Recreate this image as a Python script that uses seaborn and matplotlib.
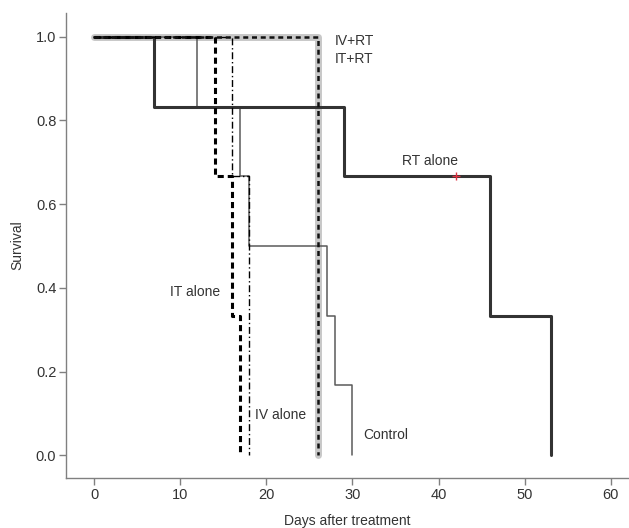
import matplotlib
matplotlib.use("Agg")
import matplotlib.pyplot as plt
import seaborn as sns
import pandas as pd

# survival curves (step functions)
control_days = [0, 12, 17, 18, 27, 28, 30]
control_surv = [1.0, 0.833, 0.667, 0.5, 0.333, 0.167, 0.0]

rt_days = [0, 7, 29, 46, 53]
rt_surv = [1.0, 0.833, 0.667, 0.333, 0.0]
rt_censor_day = [42]
rt_censor_surv = [0.667]

it_days = [0, 14, 16, 17]
it_surv = [1.0, 0.667, 0.333, 0.0]

iv_days = [0, 16, 18]
iv_surv = [1.0, 0.667, 0.0]

ivrt_days = [0, 26]
ivrt_surv = [1.0, 0.0]

itrt_days = [0, 26]
itrt_surv = [1.0, 0.0]

x_ticks = [0, 10, 20, 30, 40, 50, 60]
y_ticks = [0.0, 0.2, 0.4, 0.6, 0.8, 1.0]

# text labels next to the curves
labels = ['IV+RT', 'IT+RT', 'RT alone', 'IT alone', 'IV alone', 'Control']
label_x = [28.0, 28.0, 35.8, 8.8, 18.7, 31.3]
label_y = [0.99, 0.946, 0.703, 0.391, 0.095, 0.049]

sns.set_style('white')
plt.rcParams['font.family'] = ['Liberation Sans', 'DejaVu Sans']

fig = plt.figure(figsize=(6.29, 5.28), dpi=100)
ax = fig.add_axes([0.105, 0.095, 0.895, 0.88])

text_col = '#333333'

## curve styles: (days, surv, colour, width, linestyle, zorder)
curves = [
    (ivrt_days, ivrt_surv, '#c8c8c8', 5.0, '-', 2),
    (control_days, control_surv, '#5a5a5a', 1.1, '-', 3),
    (rt_days, rt_surv, '#333333', 2.2, '-', 3),
    (it_days, it_surv, '#000000', 2.2, (0, (2.0, 1.3)), 4),
    (iv_days, iv_surv, '#000000', 1.0, (0, (5, 2, 1, 2)), 4),
    (itrt_days, itrt_surv, '#111111', 1.8, (0, (2.0, 1.5)), 5),
]

for days, surv, col, lw, ls, z in curves:
    df = pd.DataFrame({'day': days, 'surv': surv})
    sns.lineplot(data=df, x='day', y='surv', drawstyle='steps-post',
                 estimator=None, color=col, lw=lw, linestyle=ls,
                 zorder=z, ax=ax)

# censored observation
sns.scatterplot(x=rt_censor_day, y=rt_censor_surv, marker='+', color='#e03040',
                s=40, linewidth=1.0, zorder=6, ax=ax)

for lab, lx, ly in zip(labels, label_x, label_y):
    ax.text(lx, ly, lab, fontsize=10, color=text_col, va='center', ha='left')

ax.set_xlim(-3.25, 62.1)
ax.set_ylim(-0.054, 1.056)
ax.set_xticks(x_ticks)
ax.set_yticks(y_ticks)
ax.set_yticklabels(['{:.1f}'.format(v) for v in y_ticks])

for side in ['top', 'right']:
    ax.spines[side].set_visible(False)
for side in ['left', 'bottom']:
    ax.spines[side].set_color('#808080')
    ax.spines[side].set_linewidth(1.0)

ax.tick_params(axis='both', which='major', direction='out', length=5, width=1,
               color='#808080', labelcolor=text_col, labelsize=10.5, pad=2,
               bottom=True, left=True)

ax.set_xlabel('Days after treatment', fontsize=10, color=text_col, labelpad=9)
ax.set_ylabel('Survival', fontsize=10, color=text_col, labelpad=8)

fig.savefig('out.png', dpi=100, facecolor='white')
